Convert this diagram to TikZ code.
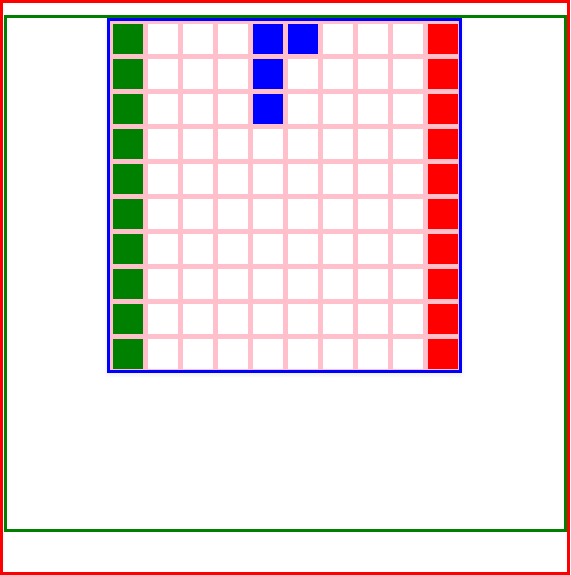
\documentclass[tikz,border=0pt]{standalone}
\usetikzlibrary{shadows.blur}

\definecolor{gridpink}{HTML}{FFC0CB}
\tikzset{
  cellbox/.style={draw=none, fill=white, minimum size=30pt, inner sep=0pt, anchor=north west},
  wallcell/.style={cellbox, fill=green!50!black},
  goalcell/.style={cellbox, fill=red},
  snakecell/.style={cellbox, fill=blue}
}

\begin{document}
\begin{tikzpicture}[x=1pt, y=-1pt]
  \useasboundingbox (0,0) rectangle (570,575);

  % frames
  \draw[red, line width=3pt] (1.5,1.5) rectangle (568.5,573.5);
  \draw[green!50!black, line width=3pt] (5.5,16.5) rectangle (565.5,530.5);
  \draw[blue, fill=gridpink, line width=3pt,
    blur shadow={shadow xshift=0pt, shadow yshift=-2pt, shadow blur radius=5pt, shadow opacity=12}]
    (108.5,19.5) rectangle (460.5,371.5);

  % grid
  \foreach \r in {0,...,9} {
    \foreach \c in {0,...,9} {
      \node[cellbox] (cell-\r-\c) at (113+35*\c, 24+35*\r) {};
    }
    \node[wallcell] (cell-\r-0) at (113, 24+35*\r) {};
    \node[goalcell] (cell-\r-9) at (113+35*9, 24+35*\r) {};
  }

  % snake
  \node[snakecell] (snake-a) at (113+35*4, 24) {};
  \node[snakecell] (snake-b) at (113+35*5, 24) {};
  \node[snakecell] (snake-c) at (113+35*4, 24+35) {};
  \node[snakecell] (snake-d) at (113+35*4, 24+70) {};
\end{tikzpicture}
\end{document}
